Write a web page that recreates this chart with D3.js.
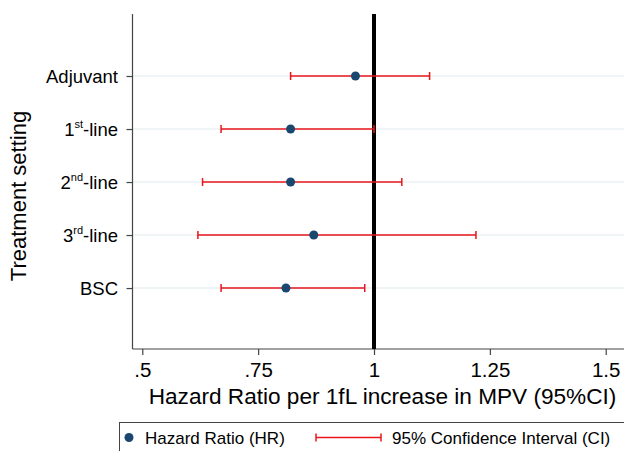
<!DOCTYPE html>
<html><head><meta charset="utf-8">
<script src="https://cdn.jsdelivr.net/npm/d3@7"></script>
<style>body{margin:0;background:#fff}svg{display:block}text{font-family:"Liberation Sans",Arial,sans-serif}</style>
</head><body><svg id="c" width="624" height="451"></svg>
<script>
const categories = ["Adjuvant", "1st-line", "2nd-line", "3rd-line", "BSC"];
const labelMain = ["Adjuvant", "1", "2", "3", "BSC"];
const labelSup = ["", "st", "nd", "rd", ""];
const labelTail = ["", "-line", "-line", "-line", ""];
const hr = [0.96, 0.82, 0.82, 0.87, 0.81];
const ciLow = [0.82, 0.67, 0.63, 0.62, 0.67];
const ciHigh = [1.12, 1.00, 1.06, 1.22, 0.98];
const xTicks = [0.5, 0.75, 1, 1.25, 1.5];
const xTickLabels = [".5", ".75", "1", "1.25", "1.5"];

const svg = d3.select("#c");
const x = d3.scaleLinear().domain([0.5, 1.5]).range([142.3, 605.7]);
const y = d3.scaleLinear().domain([-1.17, 5.15]).range([14, 349]);
const idx = d3.range(categories.length);
const xLeft = 132.5, xRight = 624;

// gridlines
svg.append("g").selectAll("line").data(idx).join("line")
  .attr("x1", xLeft).attr("x2", xRight)
  .attr("y1", d => y(d)).attr("y2", d => y(d))
  .attr("stroke", "#eaf2f3").attr("stroke-width", 1.5);

// x axis
const xAxis = d3.axisBottom(x).tickValues(xTicks).tickFormat((d, i) => xTickLabels[i]).tickSize(6).tickPadding(7);
const gx = svg.append("g").attr("transform", "translate(0,349)").call(xAxis);
gx.select(".domain").remove();
gx.append("line").attr("x1", xLeft).attr("x2", xRight).attr("y1", 0).attr("y2", 0).attr("stroke", "#444").attr("stroke-width", 1.2);
gx.selectAll(".tick line").attr("stroke", "#444").attr("stroke-width", 1.2);
gx.selectAll(".tick text").attr("font-size", 20.5).attr("fill", "#000").attr("font-family", '"Liberation Sans",Arial,sans-serif');

// y axis
const yAxis = d3.axisLeft(y).tickValues(idx).tickFormat("").tickSize(6);
const gy = svg.append("g").attr("transform", `translate(${xLeft},0)`).call(yAxis);
gy.select(".domain").remove();
gy.append("line").attr("x1", 0).attr("x2", 0).attr("y1", 14).attr("y2", 349).attr("stroke", "#444").attr("stroke-width", 1.2);
gy.selectAll(".tick line").attr("stroke", "#444").attr("stroke-width", 1.2);

// y labels with superscripts
const yl = svg.append("g").selectAll("text").data(idx).join("text")
  .attr("x", 118).attr("y", d => y(d) + 6.5)
  .attr("text-anchor", "end").attr("font-size", 18.5).attr("fill", "#000");
yl.append("tspan").text(d => labelMain[d]);
yl.filter(d => labelSup[d]).append("tspan").text(d => labelSup[d]).attr("font-size", 11).attr("dy", -8);
yl.filter(d => labelTail[d]).append("tspan").text(d => labelTail[d]).attr("dy", 8);

// reference line at 1
svg.append("line").attr("x1", x(1)).attr("x2", x(1)).attr("y1", 14).attr("y2", 349)
  .attr("stroke", "#000").attr("stroke-width", 4);

// CI
const red = "#e8161b";
const ci = svg.append("g");
ci.selectAll("line.h").data(idx).join("line").attr("class", "h")
  .attr("x1", d => x(ciLow[d])).attr("x2", d => x(ciHigh[d]))
  .attr("y1", d => y(d)).attr("y2", d => y(d)).attr("stroke", red).attr("stroke-width", 1.5);
ci.selectAll("line.l").data(idx).join("line").attr("class", "l")
  .attr("x1", d => x(ciLow[d])).attr("x2", d => x(ciLow[d]))
  .attr("y1", d => y(d) - 4).attr("y2", d => y(d) + 4).attr("stroke", red).attr("stroke-width", 1.5);
ci.selectAll("line.r").data(idx).join("line").attr("class", "r")
  .attr("x1", d => x(ciHigh[d])).attr("x2", d => x(ciHigh[d]))
  .attr("y1", d => y(d) - 4).attr("y2", d => y(d) + 4).attr("stroke", red).attr("stroke-width", 1.5);

// points
const navy = "#1a476f";
svg.append("g").selectAll("circle").data(idx).join("circle")
  .attr("cx", d => x(hr[d])).attr("cy", d => y(d)).attr("r", 4.5).attr("fill", navy);

// titles
svg.append("text").attr("transform", "translate(26,196) rotate(-90)").attr("text-anchor", "middle")
  .attr("font-size", 22).attr("fill", "#000").text("Treatment setting");
svg.append("text").attr("x", 382.5).attr("y", 404).attr("text-anchor", "middle")
  .attr("font-size", 22.6).attr("fill", "#000").text("Hazard Ratio per 1fL increase in MPV (95%CI)");

// legend
svg.append("rect").attr("x", 119.5).attr("y", 422.5).attr("width", 520).attr("height", 40)
  .attr("fill", "#fff").attr("stroke", "#444").attr("stroke-width", 1);
svg.append("circle").attr("cx", 129).attr("cy", 437.5).attr("r", 4.5).attr("fill", navy);
svg.append("text").attr("x", 145).attr("y", 444).attr("font-size", 17).attr("fill", "#000").text("Hazard Ratio (HR)");
const lg = svg.append("g").attr("stroke", red).attr("stroke-width", 1.5);
lg.append("line").attr("x1", 316).attr("x2", 381).attr("y1", 437.5).attr("y2", 437.5);
lg.append("line").attr("x1", 316).attr("x2", 316).attr("y1", 433.5).attr("y2", 441.5);
lg.append("line").attr("x1", 381).attr("x2", 381).attr("y1", 433.5).attr("y2", 441.5);
svg.append("text").attr("x", 392).attr("y", 444).attr("font-size", 17).attr("fill", "#000").text("95% Confidence Interval (CI)");
</script></body></html>
